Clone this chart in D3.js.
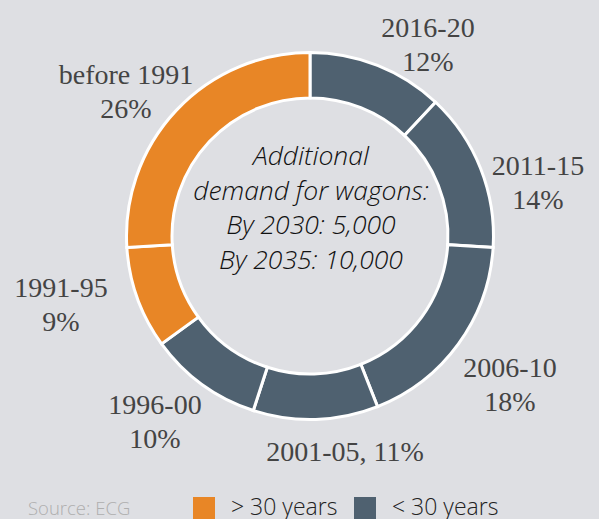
<!DOCTYPE html>
<html lang="en">
<head>
<meta charset="utf-8">
<title>Wagon fleet age</title>
<script src="https://cdn.jsdelivr.net/npm/d3@7"></script>
<style>
  html, body { margin: 0; padding: 0; background: #dedfe3; }
  svg { display: block; }
  .lbl { font-family: "Liberation Serif", "DejaVu Serif", serif; font-size: 28px; fill: #444; }
  .centre { font-family: "Open Sans", sans-serif; font-style: italic; font-weight: 300; font-size: 26.5px; fill: #111; }
  .legend { font-family: "Open Sans", sans-serif; font-weight: 300; font-size: 23px; fill: #222; }
  .source { font-family: "Open Sans", sans-serif; font-weight: 300; font-size: 18.5px; fill: #aeaeae; }
</style>
</head>
<body>
<script>
var w = 599, h = 519;

// clockwise from 12 o'clock
var periods = ["2016-20", "2011-15", "2006-10", "2001-05", "1996-00", "1991-95", "before 1991"];
var shares  = [12, 14, 18, 11, 10, 9, 26];
var groups  = ["young", "young", "young", "young", "young", "old", "old"];
var legendLabels = ["> 30 years", "< 30 years"];
var centreLines = ["Additional", "demand for wagons:", "By 2030: 5,000", "By 2035: 10,000"];

// label anchor points (centre of first line)
var labelPos = [[428, 37], [538, 175], [510, 377], [345, 461], [155, 414], [61, 297], [126, 84]];

var colour = d3.scaleOrdinal().domain(["old", "young"]).range(["#e88626", "#4f6170"]);

var cx = 310, cy = 236;
var svg = d3.select("body").append("svg").attr("width", w).attr("height", h);

var pie = d3.pie().sort(null).value(function(d) { return d; });
var arc = d3.arc().innerRadius(138).outerRadius(183.5);

var g = svg.append("g").attr("transform", "translate(" + cx + "," + cy + ")");
g.selectAll("path")
  .data(pie(shares))
  .enter()
  .append("path")
  .attr("d", arc)
  .attr("fill", function(d, i) { return colour(groups[i]); })
  .attr("stroke", "#fff")
  .attr("stroke-width", 3);

// segment labels
periods.forEach(function(p, i) {
  var t = svg.append("text").attr("class", "lbl").attr("text-anchor", "middle")
    .attr("x", labelPos[i][0]).attr("y", labelPos[i][1]);
  if (p === "2001-05") {
    t.text(p + ", " + shares[i] + "%");
  } else {
    t.append("tspan").attr("x", labelPos[i][0]).text(p);
    t.append("tspan").attr("x", labelPos[i][0]).attr("dy", 34).text(shares[i] + "%");
  }
});

// centre text
svg.append("text").attr("class", "centre").attr("text-anchor", "middle")
  .selectAll("tspan")
  .data(centreLines)
  .enter()
  .append("tspan")
  .attr("x", cx + 1)
  .attr("y", function(d, i) { return 165 + i * 34.5; })
  .text(function(d) { return d; });

// source + legend
svg.append("text").attr("class", "source").attr("x", 28).attr("y", 515).text("Source: ECG");

var lg = svg.append("g");
var legendX = [193, 354];
["old", "young"].forEach(function(k, i) {
  lg.append("rect").attr("x", legendX[i]).attr("y", 497).attr("width", 22).attr("height", 24)
    .attr("fill", colour(k));
  lg.append("text").attr("class", "legend").attr("x", legendX[i] + 38).attr("y", 515)
    .text(legendLabels[i]);
});
</script>
</body>
</html>
